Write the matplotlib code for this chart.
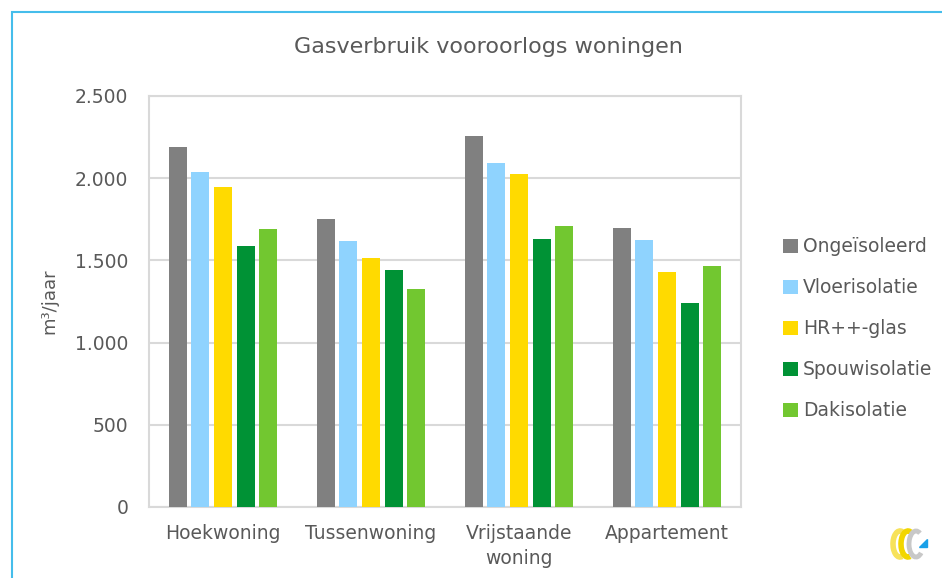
import numpy as np
import matplotlib
matplotlib.use("Agg")
import matplotlib.pyplot as plt
from matplotlib.patches import Rectangle, Arc, Polygon

categories = ["Hoekwoning", "Tussenwoning", "Vrijstaande\nwoning", "Appartement"]
series_names = ["Ongeïsoleerd", "Vloerisolatie", "HR++-glas", "Spouwisolatie", "Dakisolatie"]

ongeisoleerd = [2190, 1754, 2258, 1697]
vloerisolatie = [2040, 1617, 2091, 1622]
hr_glas = [1944, 1516, 2027, 1431]
spouwisolatie = [1585, 1443, 1631, 1243]
dakisolatie = [1694, 1325, 1712, 1466]

yticks = [0, 500, 1000, 1500, 2000, 2500]
ytick_labels = ["0", "500", "1.000", "1.500", "2.000", "2.500"]

colors = ["#808080", "#8fd3fe", "#ffda00", "#009235", "#72c730"]
text_col = "#595959"
grid_col = "#d9d9d9"

plt.rcParams["font.family"] = ["DejaVu Sans"]

fig = plt.figure(figsize=(9.42, 5.78), dpi=100)
ax = fig.add_axes([149 / 942, 1 - 507 / 578, 592 / 942, 411 / 578])

all_series = [ongeisoleerd, vloerisolatie, hr_glas, spouwisolatie, dakisolatie]
x = np.arange(len(categories))
step = 0.1535
width = 0.122
for i, (vals, name) in enumerate(zip(all_series, series_names)):
    ax.bar(x + (i - 2) * step, vals, width, color=colors[i], label=name, zorder=3)

ax.set_xlim(-0.5, len(categories) - 0.5)
ax.set_ylim(0, 2500)
ax.set_yticks(yticks)
ax.set_yticklabels(ytick_labels)
ax.set_xticks(x)
ax.set_xticklabels(categories, linespacing=1.45)
ax.tick_params(axis="both", length=0, labelsize=13.5, colors=text_col)
ax.tick_params(axis="y", pad=15)
ax.tick_params(axis="x", pad=12)
ax.grid(axis="y", color=grid_col, linewidth=1.5, zorder=0)
for s in ax.spines.values():
    s.set_color(grid_col)
    s.set_linewidth(1.5)

ax.set_ylabel("m³/jaar", fontsize=13, color=text_col, labelpad=12)

fig.text(488 / 942, 1 - 47 / 578, "Gasverbruik vooroorlogs woningen",
         ha="center", va="center", fontsize=16, color=text_col)

leg = fig.legend(loc="upper left", bbox_to_anchor=(775 / 942, 1 - 230 / 578),
                 frameon=False, fontsize=13.5, labelcolor=text_col,
                 handlelength=0.8, handleheight=0.8, handletextpad=0.3,
                 labelspacing=1.17, borderaxespad=0)

# blue frame around the chart
fig.patches.append(Rectangle((12 / 942, -0.05), 1.1, 1 - 12 / 578 + 0.05,
                             transform=fig.transFigure, fill=False,
                             edgecolor="#45bdeb", linewidth=1.5))

# small logo bottom right
lax = fig.add_axes([888 / 942, 1 - 560 / 578, 48 / 942, 32 / 578])
lax.set_xlim(0, 48)
lax.set_ylim(0, 32)
lax.axis("off")
lax.add_patch(Arc((12, 16), 14, 26, theta1=70, theta2=280, color="#f7e25a", lw=4))
lax.add_patch(Arc((20, 16), 14, 26, theta1=70, theta2=280, color="#f2d600", lw=4))
lax.add_patch(Arc((28, 16), 14, 26, theta1=70, theta2=300, color="#c8c8c8", lw=3.5))
lax.add_patch(Polygon([[31, 13], [39, 13], [39, 21]], closed=True, color="#1aa0e8"))

fig.savefig("out.png", dpi=100, facecolor="white")
